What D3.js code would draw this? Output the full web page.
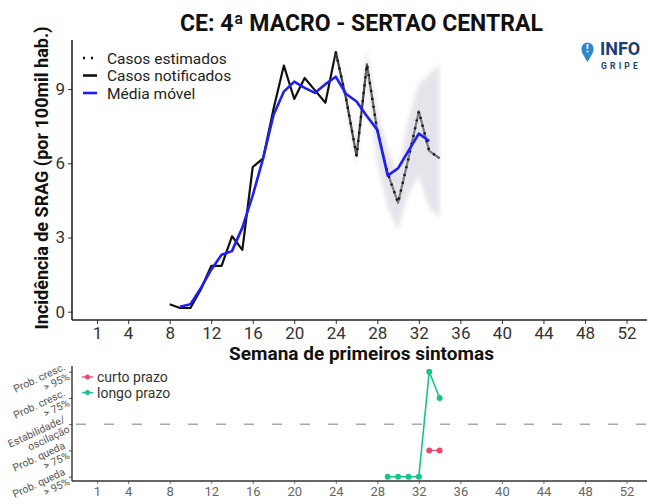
<!DOCTYPE html>
<html><head><meta charset="utf-8">
<script src="https://cdn.jsdelivr.net/npm/d3@7"></script>
<style>
html,body{margin:0;padding:0;background:#fff;}
svg{display:block;font-family:Roboto,"Noto Sans",sans-serif;}
</style></head>
<body>
<script>
// ---------- data ----------
const xTicks = [1,4,8,12,16,20,24,28,32,36,40,44,48,52];
const yTicks = [0,3,6,9];
const notifiedWeeks = d3.range(8,35);
const notified = [0.3,0.15,0.15,0.9,1.85,1.85,3.05,2.5,5.85,6.2,8.2,9.95,8.6,9.45,8.95,8.45,10.5,8.6,6.3,10.0,7.3,5.6,4.4,6.2,8.1,6.5,6.2];
const estWeeks = d3.range(24,35);
const estimated = [10.5,8.6,6.3,10.0,7.3,5.6,4.4,6.2,8.1,6.5,6.2];
const ribbonLower = [10.3,8.3,5.9,9.5,6.0,4.2,3.3,4.8,5.5,4.2,3.8];
const ribbonUpper = [10.7,8.9,6.8,10.6,8.1,6.6,5.6,7.8,9.2,9.6,10.0];
const maWeeks = d3.range(9,34);
const movingAvg = [0.2,0.3,0.95,1.7,2.3,2.45,3.4,4.7,6.2,7.95,8.9,9.3,9.05,8.85,9.2,9.5,8.8,8.5,7.9,7.35,5.5,5.8,6.5,7.2,6.9];
const legendTop = ["Casos estimados","Casos notificados","Média móvel"];
const trendLevels = [2,1,0,-1,-2];
const trendLabels = [["Prob. cresc.","> 95%"],["Prob. cresc.","> 75%"],["Estabilidade/","oscilação"],["Prob. queda","> 75%"],["Prob. queda","> 95%"]];
const longWeeks = [29,30,31,32,33,34];
const longVals = [-2,-2,-2,-2,2,1];
const shortWeeks = [33,34];
const shortVals = [-1,-1];
const legendBottom = ["curto prazo","longo prazo"];
const title = "CE: 4ª MACRO - SERTAO CENTRAL";

// ---------- setup ----------
const W=647,H=504;
const svg=d3.select("body").append("svg").attr("width",W).attr("height",H);
const colShort="#e94b6e", colLong="#17c48a";

const x=d3.scaleLinear().domain([1,52]).range([97,626.5]);
const y=d3.scaleLinear().domain([0,9]).range([311.7,89.1]);
const yb=d3.scaleLinear().domain([-2,2]).range([476.7,371.7]);
const axL=72, axB=320, axB2=481;

const defs=svg.append("defs");
defs.append("filter").attr("id","blur").attr("x","-20%").attr("y","-20%").attr("width","140%").attr("height","140%")
  .append("feGaussianBlur").attr("stdDeviation",2);

// title
svg.append("text").attr("x",361.5).attr("y",31).attr("text-anchor","middle")
  .attr("font-size",23).attr("font-weight","bold").attr("fill","#111").text(title);

// notified line
const line=d3.line().x(d=>x(d[0])).y(d=>y(d[1]));
svg.append("path").datum(notifiedWeeks.map((w,i)=>[w,notified[i]]))
  .attr("d",line).attr("fill","none").attr("stroke","#111").attr("stroke-width",2.2).attr("stroke-linejoin","round");

// ribbon
const area=d3.area().x(d=>x(d.w)).y0(d=>y(d.lo)).y1(d=>y(d.hi));
svg.append("path").datum(estWeeks.map((w,i)=>({w,lo:ribbonLower[i],hi:ribbonUpper[i]})))
  .attr("d",area).attr("fill","#cfcfd9").attr("opacity",0.55).attr("filter","url(#blur)");

// estimated dotted
svg.append("path").datum(estWeeks.map((w,i)=>[w,estimated[i]]))
  .attr("d",line).attr("fill","none").attr("stroke","#111").attr("stroke-width",2.4)
  .attr("stroke-dasharray","2,6");

// moving average
svg.append("path").datum(maWeeks.map((w,i)=>[w,movingAvg[i]]))
  .attr("d",line).attr("fill","none").attr("stroke","#1f1ff5").attr("stroke-width",2.6).attr("stroke-linejoin","round");

// axes top
const gx=svg.append("g").attr("transform",`translate(0,${axB})`)
  .call(d3.axisBottom(x).tickValues(xTicks).tickSize(4).tickSizeOuter(0));
gx.select(".domain").remove();
gx.selectAll("text").attr("font-size",17).attr("fill","#333").attr("font-family","Roboto");
gx.selectAll("line").attr("stroke","#333");
svg.append("line").attr("x1",axL).attr("x2",W).attr("y1",axB).attr("y2",axB).attr("stroke","#222").attr("stroke-width",1.6);

const gy=svg.append("g").attr("transform",`translate(${axL},0)`)
  .call(d3.axisLeft(y).tickValues(yTicks).tickSize(4).tickSizeOuter(0));
gy.select(".domain").remove();
gy.selectAll("text").attr("font-size",17).attr("fill","#333").attr("font-family","Roboto");
gy.selectAll("line").attr("stroke","#333");
svg.append("line").attr("x1",axL).attr("x2",axL).attr("y1",40).attr("y2",axB).attr("stroke","#222").attr("stroke-width",1.6);

// axis titles
svg.append("text").attr("transform","translate(48,178) rotate(-90)").attr("text-anchor","middle")
  .attr("font-size",18).attr("font-weight","bold").attr("fill","#111").text("Incidência de SRAG (por 100mil hab.)");
svg.append("text").attr("x",361.5).attr("y",360).attr("text-anchor","middle")
  .attr("font-size",19).attr("font-weight","bold").attr("fill","#111").text("Semana de primeiros sintomas");

// legend top
const lg=svg.append("g");
legendTop.forEach((t,i)=>{
  const by=63.5+i*17.5;
  lg.append("text").attr("x",107).attr("y",by).attr("font-size",15.5).attr("fill","#222").text(t);
  const sy=by-5.5;
  if(i===0){
    lg.append("line").attr("x1",83).attr("x2",97).attr("y1",sy).attr("y2",sy).attr("stroke","#111").attr("stroke-width",2.4).attr("stroke-dasharray","2,6");
  } else {
    lg.append("line").attr("x1",83).attr("x2",97).attr("y1",sy).attr("y2",sy).attr("stroke",i===1?"#111":"#1f1ff5").attr("stroke-width",2.6);
  }
});

// logo
const logo=svg.append("g");
logo.append("path").attr("d","M587.5,62 C584,56 581.5,53 581.5,48.5 A6,6 0 1 1 593.5,48.5 C593.5,53 591,56 587.5,62 Z").attr("fill","#2f86c8");
logo.append("rect").attr("x",586.6).attr("y",44).attr("width",1.8).attr("height",5).attr("fill","#fff");
logo.append("circle").attr("cx",587.5).attr("cy",51.5).attr("r",1).attr("fill","#fff");
logo.append("text").attr("x",600).attr("y",55).attr("font-size",18).attr("font-weight","bold").attr("fill","#1d3d7a").text("INFO");
logo.append("text").attr("x",601).attr("y",68.5).attr("font-size",8.5).attr("font-weight","bold").attr("letter-spacing",3.2).attr("fill","#1d3d7a").text("GRIPE");

// ---------- bottom panel ----------
svg.append("line").attr("x1",axL).attr("x2",W).attr("y1",yb(0)).attr("y2",yb(0))
  .attr("stroke","#aaa").attr("stroke-width",1.5).attr("stroke-dasharray","10,18").attr("stroke-dashoffset",-4);

const gx2=svg.append("g").attr("transform",`translate(0,${axB2})`)
  .call(d3.axisBottom(x).tickValues(xTicks).tickSize(3).tickSizeOuter(0));
gx2.select(".domain").remove();
gx2.selectAll("text").attr("font-size",13).attr("fill","#666").attr("font-family","Roboto");
gx2.selectAll("line").attr("stroke","#777");
svg.append("line").attr("x1",axL).attr("x2",W).attr("y1",axB2).attr("y2",axB2).attr("stroke","#333").attr("stroke-width",1.6);

const gy2=svg.append("g").attr("transform",`translate(${axL},0)`)
  .call(d3.axisLeft(yb).tickValues(trendLevels).tickSize(3).tickFormat(""));
gy2.select(".domain").remove();
gy2.selectAll("line").attr("stroke","#555");
svg.append("line").attr("x1",axL).attr("x2",axL).attr("y1",366).attr("y2",axB2).attr("stroke","#333").attr("stroke-width",1.4);

trendLevels.forEach((lv,i)=>{
  const t=svg.append("text").attr("transform",`translate(67,${yb(lv)}) rotate(-25)`)
    .attr("text-anchor","end").attr("font-size",10.5).attr("fill","#555");
  t.append("tspan").attr("x",0).attr("dy","-0.25em").text(trendLabels[i][0]);
  t.append("tspan").attr("x",0).attr("dy","1.05em").text(trendLabels[i][1]);
});

const lineB=d3.line().x(d=>x(d[0])).y(d=>yb(d[1]));
const longData=longWeeks.map((w,i)=>[w,longVals[i]]);
const shortData=shortWeeks.map((w,i)=>[w,shortVals[i]]);
svg.append("path").datum(longData).attr("d",lineB).attr("fill","none").attr("stroke",colLong).attr("stroke-width",1.6);
svg.selectAll(".pl").data(longData).enter().append("circle").attr("cx",d=>x(d[0])).attr("cy",d=>yb(d[1])).attr("r",3).attr("fill",colLong);
svg.append("path").datum(shortData).attr("d",lineB).attr("fill","none").attr("stroke",colShort).attr("stroke-width",1.2);
svg.selectAll(".ps").data(shortData).enter().append("circle").attr("cx",d=>x(d[0])).attr("cy",d=>yb(d[1])).attr("r",3).attr("fill",colShort);

// legend bottom
legendBottom.forEach((t,i)=>{
  const by=382+i*15.5, c=i===0?colShort:colLong;
  svg.append("line").attr("x1",82).attr("x2",93).attr("y1",by-5).attr("y2",by-5).attr("stroke",c).attr("stroke-width",1.4);
  svg.append("circle").attr("cx",87.5).attr("cy",by-5).attr("r",2.5).attr("fill",c);
  svg.append("text").attr("x",97).attr("y",by).attr("font-size",14).attr("fill","#333").text(t);
});
</script>
</body></html>
